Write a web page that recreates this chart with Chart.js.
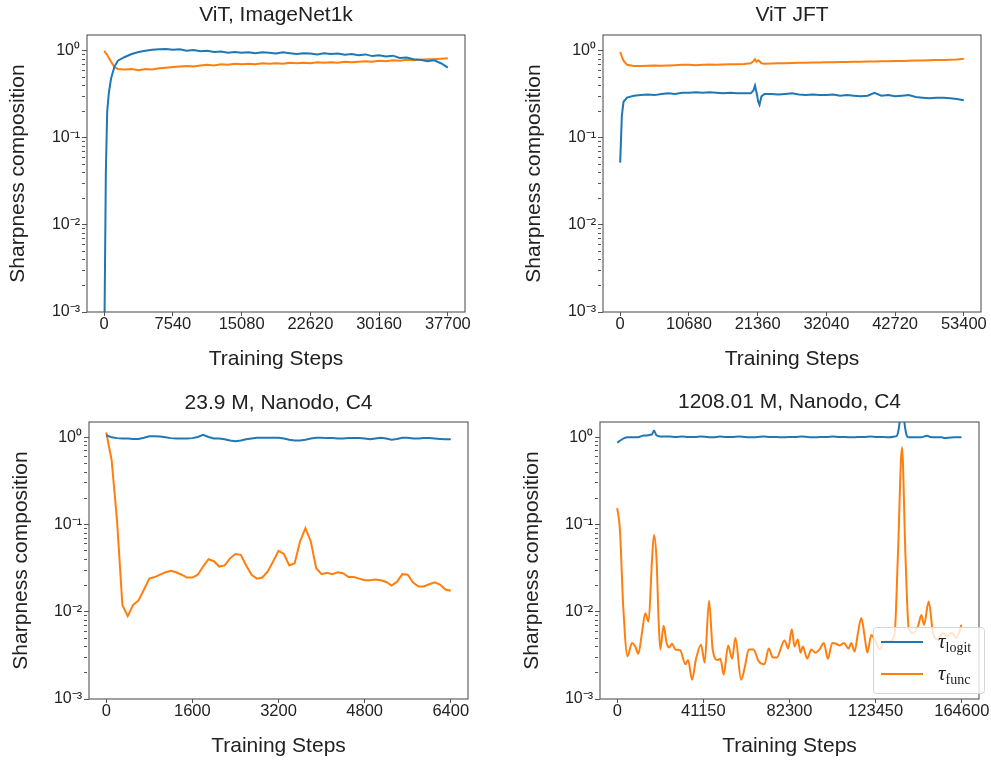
<!DOCTYPE html>
<html>
<head>
<meta charset="utf-8">
<title>Sharpness composition</title>
<script src="https://cdn.jsdelivr.net/npm/chart.js@4.4.1/dist/chart.umd.min.js"></script>
<style>
  html, body { margin: 0; padding: 0; background: #fff; }
  #fig { position: relative; width: 991px; height: 760px; }
  #fig canvas { position: absolute; }
</style>
</head>
<body>
<div id="fig">
  <canvas id="c1" width="495" height="380" style="left:0;top:0"></canvas>
  <canvas id="c2" width="496" height="380" style="left:495px;top:0"></canvas>
  <canvas id="c3" width="495" height="380" style="left:0;top:380px"></canvas>
  <canvas id="c4" width="496" height="380" style="left:495px;top:380px"></canvas>
</div>
<script>
// === Données ===

// ViT, ImageNet1k
const inetSteps = [0, 183, 329, 500, 754, 1131, 1508, 2262, 3016, 3770, 4524, 5278, 6032, 6786, 7540, 8294, 9048, 9802, 10556, 11310,
  12064, 12818, 13572, 14326, 15080, 15834, 16588, 17342, 18096, 18850, 19604, 20358, 21112, 21866, 22620, 23374, 24128, 24882, 25636, 26390,
  27144, 27898, 28652, 29406, 30160, 30914, 31668, 32422, 33176, 33930, 34684, 35438, 36192, 36946, 37700];
const inetLogit = [0.0003, 0.04, 0.2, 0.32, 0.48, 0.66, 0.77, 0.85, 0.92, 0.97, 1.0, 1.03, 1.04, 1.05, 1.03, 1.04, 1.0, 1.02, 0.99, 1.0,
  0.97, 0.98, 0.95, 0.97, 0.95, 0.96, 0.94, 0.96, 0.95, 0.93, 0.96, 0.94, 0.92, 0.94, 0.93, 0.91, 0.94, 0.92, 0.93, 0.90,
  0.92, 0.89, 0.91, 0.87, 0.89, 0.86, 0.88, 0.83, 0.84, 0.80, 0.79, 0.76, 0.78, 0.72, 0.64];
const inetFunc = [1.0, 0.94, 0.90, 0.83, 0.75, 0.65, 0.62, 0.61, 0.62, 0.60, 0.62, 0.61, 0.63, 0.64, 0.65, 0.66, 0.67, 0.66, 0.68, 0.69,
  0.68, 0.70, 0.69, 0.71, 0.70, 0.71, 0.70, 0.72, 0.71, 0.72, 0.71, 0.73, 0.72, 0.73, 0.72, 0.74, 0.73, 0.74, 0.73, 0.75,
  0.74, 0.75, 0.76, 0.75, 0.77, 0.76, 0.78, 0.77, 0.79, 0.78, 0.79, 0.80, 0.80, 0.81, 0.82];
const inetXTicks = [0, 7540, 15080, 22620, 30160, 37700];
const inetXLabels = ['0', '7540', '15080', '22620', '30160', '37700'];

// ViT JFT
const jftSteps = [0, 260, 520, 1068, 2136, 3204, 4272, 5340, 6408, 7476, 8544, 9612, 10680, 11748, 12816, 13884, 14952, 16020, 17088, 18156,
  19224, 20292, 20700, 20950, 21200, 21450, 21650, 21950, 22428, 23496, 24564, 25632, 26700, 27768, 28836, 29904, 30972, 32040, 33108, 34176,
  35244, 36312, 37380, 38448, 39516, 40584, 41652, 42720, 43788, 44856, 45924, 46992, 48060, 49128, 50196, 51264, 52332, 53400];
const jftLogit = [0.052, 0.18, 0.26, 0.29, 0.305, 0.31, 0.315, 0.31, 0.32, 0.325, 0.32, 0.33, 0.33, 0.335, 0.33, 0.335, 0.33, 0.325, 0.33, 0.325,
  0.325, 0.325, 0.35, 0.40, 0.33, 0.26, 0.24, 0.30, 0.32, 0.32, 0.315, 0.32, 0.325, 0.315, 0.31, 0.315, 0.31, 0.31, 0.315, 0.305,
  0.31, 0.305, 0.30, 0.305, 0.33, 0.305, 0.31, 0.30, 0.305, 0.31, 0.295, 0.29, 0.285, 0.29, 0.29, 0.285, 0.28, 0.27];
const jftFunc = [0.97, 0.86, 0.77, 0.69, 0.67, 0.67, 0.675, 0.68, 0.675, 0.68, 0.685, 0.69, 0.69, 0.685, 0.69, 0.695, 0.69, 0.695, 0.70, 0.70,
  0.705, 0.72, 0.76, 0.80, 0.75, 0.78, 0.76, 0.72, 0.71, 0.715, 0.72, 0.72, 0.725, 0.73, 0.73, 0.735, 0.735, 0.74, 0.74, 0.745,
  0.745, 0.75, 0.75, 0.755, 0.755, 0.76, 0.76, 0.765, 0.765, 0.77, 0.775, 0.775, 0.78, 0.785, 0.785, 0.79, 0.795, 0.81];
const jftXTicks = [0, 10680, 21360, 32040, 42720, 53400];
const jftXLabels = ['0', '10680', '21360', '32040', '42720', '53400'];

// 23.9 M, Nanodo, C4
const smallSteps = [0, 100, 200, 300, 400, 500, 600, 700, 800, 900, 1000, 1100, 1200, 1300, 1400, 1500, 1600, 1700, 1800, 1900,
  2000, 2100, 2200, 2300, 2400, 2500, 2600, 2700, 2800, 2900, 3000, 3100, 3200, 3300, 3400, 3500, 3600, 3700, 3800, 3900,
  4000, 4100, 4200, 4300, 4400, 4500, 4600, 4700, 4800, 4900, 5000, 5100, 5200, 5300, 5400, 5500, 5600, 5700, 5800, 5900,
  6000, 6100, 6200, 6300, 6400];
const smallLogit = [1.06, 1.0, 0.98, 0.97, 0.97, 0.96, 0.96, 0.99, 1.03, 1.03, 1.02, 1.0, 0.98, 0.97, 0.97, 0.97, 0.98, 1.01, 1.07, 1.01,
  0.97, 0.97, 0.95, 0.92, 0.90, 0.92, 0.95, 0.97, 0.99, 0.99, 0.99, 0.99, 0.99, 0.97, 0.94, 0.92, 0.92, 0.94, 0.97, 0.99,
  0.99, 0.98, 0.98, 0.97, 0.97, 0.98, 0.98, 0.98, 0.97, 0.95, 0.97, 0.99, 0.97, 0.94, 0.96, 0.99, 0.99, 0.97, 0.97, 0.98,
  0.98, 0.97, 0.96, 0.95, 0.95];
const smallFunc = [1.14, 0.55, 0.113, 0.012, 0.0089, 0.012, 0.0135, 0.0179, 0.024, 0.025, 0.0267, 0.0284, 0.0296, 0.0284, 0.0266, 0.0247, 0.0247, 0.0266, 0.033, 0.040,
  0.038, 0.033, 0.034, 0.041, 0.046, 0.045, 0.034, 0.0266, 0.024, 0.0247, 0.029, 0.0377, 0.050, 0.046, 0.034, 0.036, 0.064, 0.091, 0.064, 0.0316,
  0.027, 0.028, 0.027, 0.0284, 0.0277, 0.025, 0.025, 0.024, 0.023, 0.023, 0.0234, 0.023, 0.022, 0.020, 0.022, 0.027, 0.0266, 0.0216, 0.0195, 0.0195,
  0.0207, 0.0218, 0.0205, 0.018, 0.0174];
const smallXTicks = [0, 1600, 3200, 4800, 6400];
const smallXLabels = ['0', '1600', '3200', '4800', '6400'];

// 1208.01 M, Nanodo, C4
const bigLogitSteps = [0, 1500, 3350, 5000, 7000, 9000, 10500, 11818, 13400, 15000, 16600, 17561, 18600, 19762, 22000, 25000, 28000, 31000, 34000, 37000,
  40000, 43000, 46000, 49000, 52000, 55000, 58000, 61000, 64000, 67000, 70000, 73000, 76000, 79000, 82000, 85000, 88000, 91000, 94000, 97000,
  100000, 103000, 106000, 109000, 112000, 115000, 118000, 121000, 124000, 127000, 130000, 132545, 133700, 134600, 135400, 136038, 136700, 137500, 138300, 139240,
  142000, 145000, 148000, 149500, 152000, 155000, 156500, 158000, 161000, 164455];
const bigLogit = [0.87, 0.92, 0.98, 1.0, 1.0, 1.0, 1.01, 1.04, 1.05, 1.06, 1.08, 1.2, 1.07, 1.03, 1.02, 1.02, 1.01, 1.02, 1.01, 1.01,
  1.02, 1.01, 1.0, 1.02, 1.01, 1.01, 1.02, 1.01, 1.0, 1.01, 1.02, 1.01, 1.01, 1.0, 1.01, 1.01, 1.02, 1.01, 1.0, 1.01,
  1.01, 1.02, 1.01, 1.01, 1.0, 1.01, 1.01, 1.02, 1.01, 1.01, 1.0, 1.02, 1.05, 1.3, 1.9, 2.3, 1.9, 1.3, 1.05, 1.0,
  1.0, 1.0, 1.04, 1.01, 1.0, 1.0, 0.98, 0.99, 1.0, 1.0];
const bigFuncSteps = [0, 1292, 2871, 4929, 7034, 8613, 10049, 11818, 13398, 14977, 16604, 17561, 18805, 19762, 20576, 22155, 23590, 24882, 26174, 27753,
  30146, 32538, 33830, 35744, 37658, 40050, 41772, 43879, 45601, 47993, 49285, 50864, 52971, 54886, 56465, 59193, 60916, 62830, 65076, 67612,
  70339, 72396, 74310, 76224, 79910, 81680, 83400, 84700, 86277, 87566, 88683, 90771, 92685, 94743, 96657, 98714, 100628, 102734, 104648, 106227,
  108284, 110533, 111824, 113404, 114986, 116612, 118190, 119482, 121396, 122980, 125367, 127760, 130152, 132545, 134124, 136038, 137660, 139240, 141297, 143690,
  145317, 146561, 148810, 150867, 153260, 155652, 157757, 159671, 162063, 164455];
const bigFunc = [0.154, 0.087, 0.0115, 0.0031, 0.0044, 0.0040, 0.0033, 0.0057, 0.0096, 0.0077, 0.039, 0.076, 0.039, 0.0081, 0.0037, 0.0069, 0.0044, 0.0039, 0.0043, 0.0037,
  0.0036, 0.0025, 0.0028, 0.00166, 0.0029, 0.0042, 0.0026, 0.0134, 0.0037, 0.0028, 0.0029, 0.0019, 0.0041, 0.0029, 0.0050, 0.00166, 0.0023, 0.0037, 0.0037, 0.0027,
  0.0025, 0.0038, 0.0030, 0.0030, 0.0047, 0.0038, 0.0063, 0.0040, 0.0048, 0.0034, 0.0040, 0.0029, 0.0037, 0.0034, 0.0037, 0.0044, 0.0029, 0.0044, 0.0043, 0.0041,
  0.0044, 0.0038, 0.0044, 0.0035, 0.0057, 0.0085, 0.0052, 0.0034, 0.0054, 0.0048, 0.0037, 0.0046, 0.0046, 0.0057, 0.047, 0.77, 0.047, 0.0065, 0.0057, 0.0068,
  0.0092, 0.0071, 0.0131, 0.0057, 0.0048, 0.0057, 0.0052, 0.0058, 0.0050, 0.0071];
const bigXTicks = [0, 41150, 82300, 123450, 164600];
const bigXLabels = ['0', '41150', '82300', '123450', '164600'];

// Axe Y logarithmique commun
const yDecades = [0.001, 0.01, 0.1];
const yMinorSteps = [1, 2, 3, 4, 5, 6, 7, 8, 9];
const yTickLabels = ['10\u207B\u00B3', '10\u207B\u00B2', '10\u207B\u00B9', '10\u2070'];
const legendSubs = ['logit', 'func'];

const yTickValues = yDecades.flatMap(d => yMinorSteps.map(m => +(m * d).toPrecision(6))).concat([1]);

// === Configuration Chart.js globale ===
Chart.defaults.font.family = "'Liberation Sans', Arial, Helvetica, sans-serif";
Chart.defaults.color = '#222';

const BLUE = '#1f77b4';
const ORANGE = '#ff7f0e';

function isDecade(v) {
    const l = Math.log10(v);
    return Math.abs(l - Math.round(l)) < 1e-6;
}

// cadre complet autour de la zone de tracé
const framePlugin = {
    id: 'frame',
    afterDraw(chart) {
        const { ctx, chartArea: a } = chart;
        ctx.save();
        ctx.strokeStyle = '#555';
        ctx.lineWidth = 1.1;
        ctx.strokeRect(a.left, a.top, a.right - a.left, a.bottom - a.top);
        ctx.restore();
    }
};

// légende en bas à droite, avec indices mathématiques
const legendPlugin = {
    id: 'mathLegend',
    afterDraw(chart) {
        const { ctx, chartArea: a } = chart;
        const x0 = a.right - 106, y0 = a.bottom - 72, w = 111, h = 66;
        ctx.save();
        ctx.beginPath();
        ctx.roundRect(x0 + 0.5, y0 + 0.5, w, h, 3);
        ctx.fillStyle = 'rgba(255,255,255,0.8)';
        ctx.fill();
        ctx.strokeStyle = '#d6d6d6';
        ctx.lineWidth = 1;
        ctx.stroke();
        chart.data.datasets.forEach((ds, i) => {
            const y = y0 + 15 + i * 32;
            ctx.strokeStyle = ds.borderColor;
            ctx.lineWidth = 2;
            ctx.beginPath();
            ctx.moveTo(x0 + 8, y);
            ctx.lineTo(x0 + 50, y);
            ctx.stroke();
            ctx.fillStyle = '#222';
            ctx.textBaseline = 'alphabetic';
            ctx.font = "italic 21px 'Liberation Serif', serif";
            ctx.fillText('\u03C4', x0 + 65, y + 6);
            const tw = ctx.measureText('\u03C4').width;
            ctx.font = "14px 'Liberation Serif', serif";
            ctx.fillText(legendSubs[i], x0 + 65 + tw, y + 10);
        });
        ctx.restore();
    }
};

function series(steps, values, color, smooth) {
    return {
        data: steps.map((s, i) => ({ x: s, y: values[i] })),
        borderColor: color,
        borderWidth: 2,
        pointRadius: 0,
        fill: false,
        tension: smooth ? 0.4 : 0,
        cubicInterpolationMode: smooth ? 'monotone' : 'default',
        clip: 0
    };
}

function subplot(id, p) {
    new Chart(document.getElementById(id), {
        type: 'line',
        data: { datasets: p.series },
        options: {
            responsive: false,
            animation: false,
            events: [],
            layout: { padding: { left: 0, right: p.padRight, top: 0, bottom: 0 } },
            plugins: {
                legend: { display: false },
                tooltip: { enabled: false },
                title: {
                    display: true, text: p.title, fullSize: false, color: '#222',
                    font: { size: 21, weight: 'normal' },
                    padding: { top: p.titleTop, bottom: p.titleBottom }
                }
            },
            scales: {
                x: {
                    type: 'linear', min: p.xMin, max: p.xMax,
                    afterBuildTicks: s => { s.ticks = p.xTicks.map(v => ({ value: v })); },
                    afterFit: s => { s.height = p.xHeight; s.paddingLeft = 0; s.paddingRight = 0; },
                    ticks: {
                        autoSkip: false, maxRotation: 0, padding: 0, color: '#222',
                        font: { size: 16.5, lineHeight: 1 },
                        callback: (v, i) => p.xLabels[i]
                    },
                    grid: { drawOnChartArea: false, tickLength: 4, tickColor: '#555', tickWidth: 1 },
                    border: { display: false },
                    title: {
                        display: true, text: 'Training Steps', color: '#222',
                        font: { size: 21 }, padding: { top: 0, bottom: p.xTitleBottom }
                    }
                },
                y: {
                    type: 'logarithmic', min: 0.001, max: p.yMax,
                    afterBuildTicks: s => { s.ticks = yTickValues.map(v => ({ value: v, major: isDecade(v) })); },
                    afterFit: s => { s.width = p.yWidth; s.paddingTop = 0; s.paddingBottom = 0; },
                    ticks: {
                        autoSkip: false, padding: 2, color: '#222',
                        font: { size: 16 },
                        callback: v => isDecade(v) ? yTickLabels[Math.round(Math.log10(v)) + 3] : ''
                    },
                    grid: {
                        drawOnChartArea: false, tickLength: 5, tickColor: '#555', tickWidth: 1,
                        tickBorderDash: c => (c.tick && !isDecade(c.tick.value)) ? [3, 20] : []
                    },
                    border: { display: false },
                    title: {
                        display: true, text: 'Sharpness composition', color: '#222',
                        font: { size: 21 }, padding: { top: p.yTitleTop, bottom: 0 }
                    }
                }
            }
        },
        plugins: p.legend ? [framePlugin, legendPlugin] : [framePlugin]
    });
}

subplot('c1', {
    title: 'ViT, ImageNet1k',
    series: [series(inetSteps, inetLogit, BLUE), series(inetSteps, inetFunc, ORANGE)],
    xMin: -1885, xMax: 39585, xTicks: inetXTicks, xLabels: inetXLabels, yMax: 1.52,
    padRight: 30, titleTop: 2.4, titleBottom: 7.4, yWidth: 87, xHeight: 68, yTitleTop: 5.5, xTitleBottom: 8.4
});

subplot('c2', {
    title: 'ViT JFT',
    series: [series(jftSteps, jftLogit, BLUE), series(jftSteps, jftFunc, ORANGE)],
    xMin: -2670, xMax: 56070, xTicks: jftXTicks, xLabels: jftXLabels, yMax: 1.52,
    padRight: 10, titleTop: 2.4, titleBottom: 7.4, yWidth: 108, xHeight: 68, yTitleTop: 27, xTitleBottom: 8.4
});

subplot('c3', {
    title: '23.9 M, Nanodo, C4',
    series: [series(smallSteps, smallLogit, BLUE), series(smallSteps, smallFunc, ORANGE)],
    xMin: -320, xMax: 6720, xTicks: smallXTicks, xLabels: smallXLabels, yMax: 1.5,
    padRight: 27, titleTop: 10.4, titleBottom: 6.4, yWidth: 89, xHeight: 61, yTitleTop: 9, xTitleBottom: 0.7
});

subplot('c4', {
    title: '1208.01 M, Nanodo, C4',
    series: [series(bigLogitSteps, bigLogit, BLUE, true), series(bigFuncSteps, bigFunc, ORANGE, true)],
    xMin: -8230, xMax: 172830, xTicks: bigXTicks, xLabels: bigXLabels, yMax: 1.5,
    padRight: 12, titleTop: 9.9, titleBottom: 6.9, yWidth: 105, xHeight: 61, yTitleTop: 25, xTitleBottom: 0.7,
    legend: true
});
</script>
</body>
</html>
